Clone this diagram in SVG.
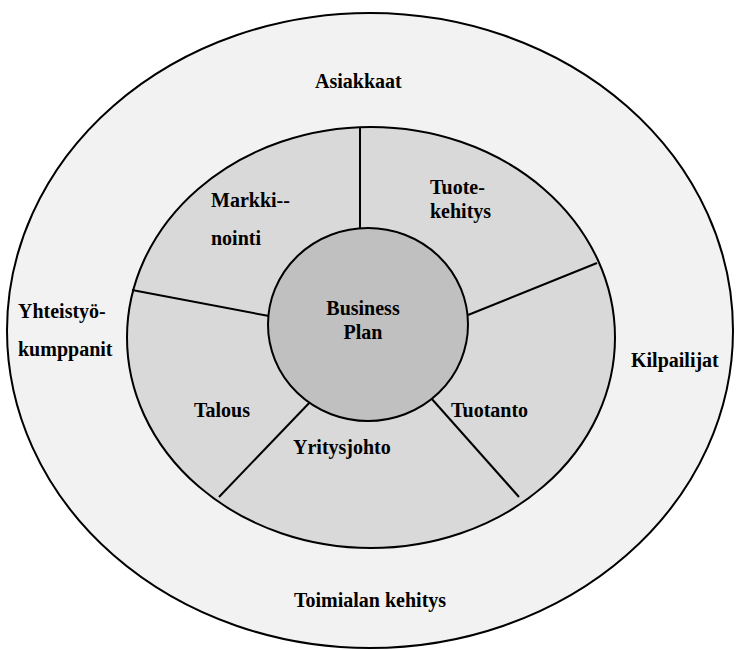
<svg xmlns="http://www.w3.org/2000/svg" width="736" height="650" viewBox="0 0 736 650">
<style>
.ln{stroke:#000;stroke-width:2;fill:none}
.t{font-family:"Liberation Serif","Times New Roman",serif;font-weight:bold;font-size:20px;fill:#000}
</style>
<rect x="0" y="0" width="736" height="650" fill="#ffffff"/>
<g id="outer">
<ellipse cx="370" cy="330.5" rx="363" ry="317.5" fill="#f2f2f2" stroke="#000" stroke-width="2"/>
<text class="t" x="315" y="88">Asiakkaat</text>
<text class="t" x="18" y="318">Yhteistyö-</text>
<text class="t" x="18" y="356">kumppanit</text>
<text class="t" x="631" y="367">Kilpailijat</text>
<text class="t" x="294" y="607">Toimialan kehitys</text>
</g>
<g id="ring">
<ellipse cx="371" cy="337.5" rx="244" ry="210.5" fill="#d9d9d9" stroke="#000" stroke-width="2"/>
</g>
<g id="connectors">
<line class="ln" x1="360" y1="127" x2="360" y2="229"/>
<line class="ln" x1="132" y1="290" x2="269" y2="316"/>
<line class="ln" x1="468" y1="315" x2="597" y2="263"/>
<line class="ln" x1="313" y1="399" x2="219" y2="497"/>
<line class="ln" x1="431" y1="398" x2="519" y2="497"/>
</g>
<g id="center">
<ellipse cx="368" cy="324.5" rx="100" ry="96.5" fill="#c0c0c0" stroke="#000" stroke-width="2"/>
<text class="t" x="363" y="315" text-anchor="middle">Business</text>
<text class="t" x="363" y="339" text-anchor="middle">Plan</text>
</g>
<g id="markkinointi">
<text class="t" x="211" y="207">Markki--</text>
<text class="t" x="211" y="245">nointi</text>
</g>
<g id="tuotekehitys">
<text class="t" x="430" y="194">Tuote-</text>
<text class="t" x="430" y="218">kehitys</text>
</g>
<g id="talous">
<text class="t" x="194" y="417">Talous</text>
</g>
<g id="yritysjohto">
<text class="t" x="293" y="454">Yritysjohto</text>
</g>
<g id="tuotanto">
<text class="t" x="451" y="417">Tuotanto</text>
</g>
</svg>
